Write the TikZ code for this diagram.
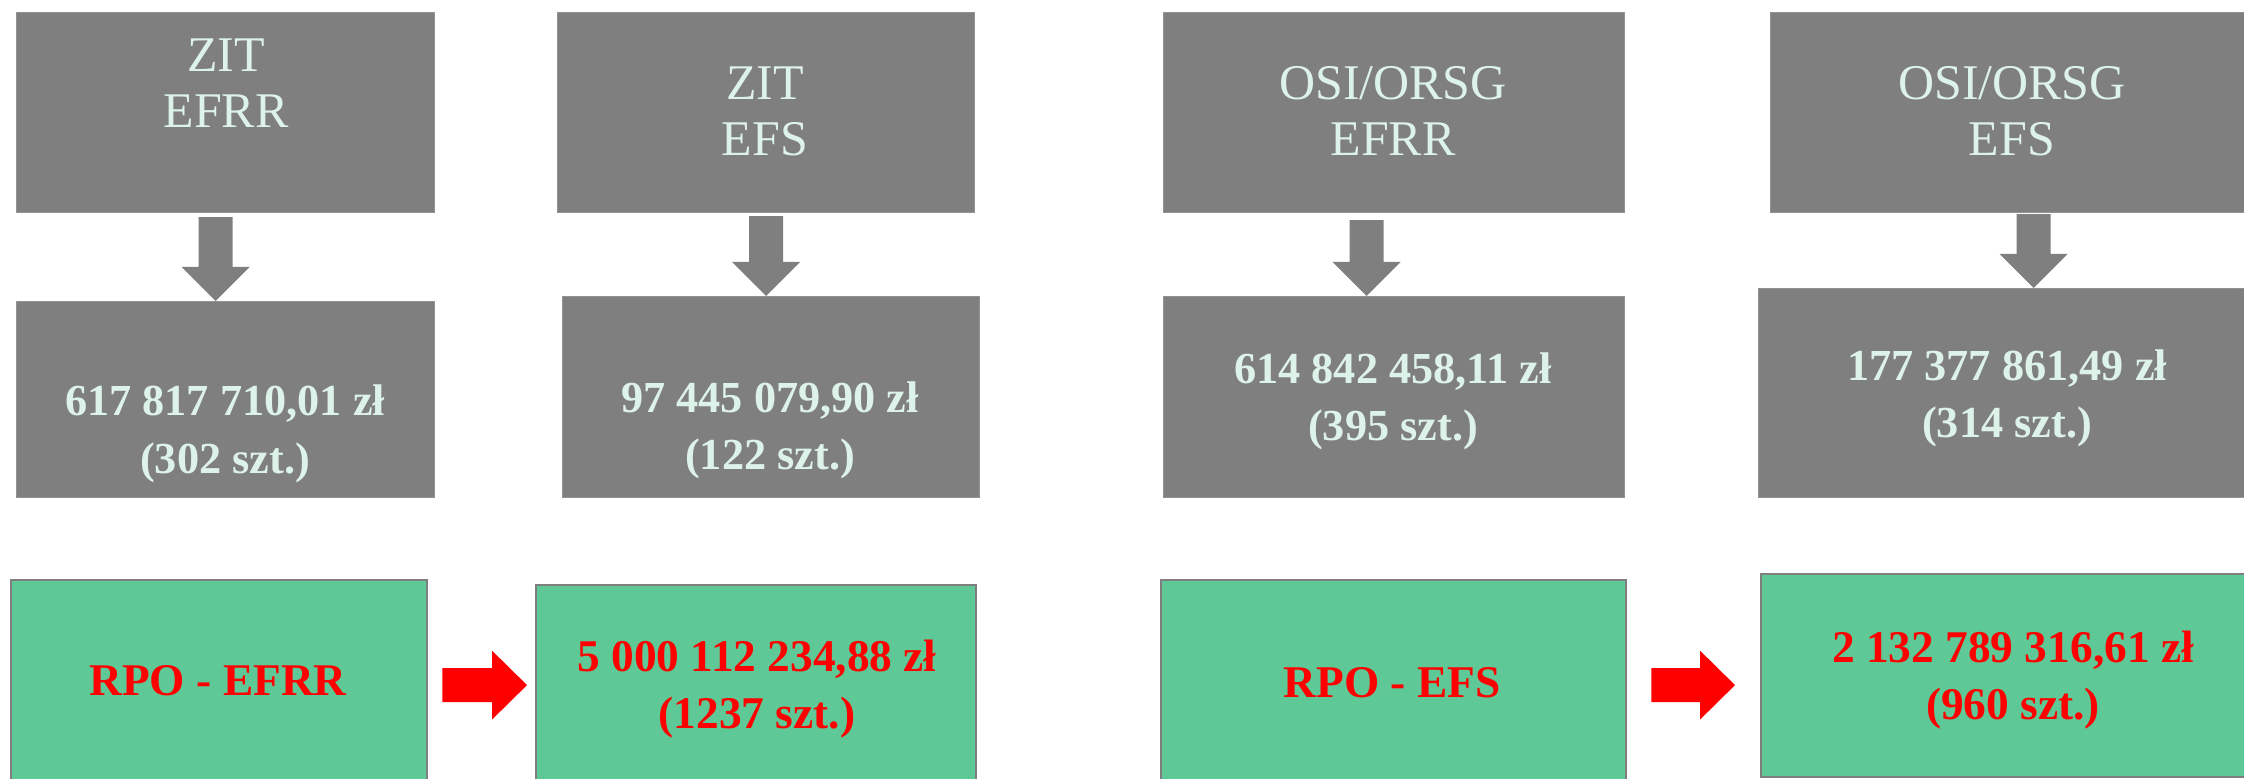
\documentclass[tikz,border=0pt]{standalone}
\usepackage{fontspec}
\setmainfont{Liberation Serif}
\usetikzlibrary{calc}

\definecolor{boxgray}{RGB}{127,127,127}
\definecolor{mint}{RGB}{221,242,232}
\definecolor{rpogreen}{RGB}{94,201,150}

\newcommand{\hdfont}{\fontsize{14.2pt}{16.2pt}\selectfont}
\newcommand{\valfont}{\bfseries\fontsize{12.6pt}{16.4pt}\selectfont}
\newcommand{\rpofont}{\bfseries\fontsize{12.9pt}{16.2pt}\selectfont}

% block arrow down: upper node, lower node, x shift, gap
\newcommand{\grayarrow}[4]{%
  \coordinate (#1-t) at ($(#1.south)+(#3,#4)$);
  \coordinate (#1-p) at (#1-t |- #2.north);
  \fill[boxgray] ($(#1-t)+(-17,0)$) -- ($(#1-t)+(17,0)$) -- ($(#1-p)+(17,-34)$)
    -- ($(#1-p)+(34,-34)$) -- (#1-p) -- ($(#1-p)+(-34,-34)$) -- ($(#1-p)+(-17,-34)$) -- cycle;
}
% block arrow right: left node, right node, gaps
\newcommand{\redarrow}[4]{%
  \coordinate (#1-s) at ($(#1.east)+(#3,-5)$);
  \coordinate (#1-q) at ($(#2.west)+(-#4,0)$);
  \coordinate (#1-p) at (#1-q |- #1-s);
  \fill[red] ($(#1-s)+(0,-17)$) -- ($(#1-p)+(-35,-17)$) -- ($(#1-p)+(-35,-34.5)$) -- (#1-p)
    -- ($(#1-p)+(-35,34.5)$) -- ($(#1-p)+(-35,17)$) -- ($(#1-s)+(0,17)$) -- cycle;
}

\begin{document}
\begin{tikzpicture}[x=0.01cm, y=-0.01cm,
    srcbox/.style={fill=boxgray, draw=boxgray!85!white, line width=0.3pt, inner sep=0pt, anchor=north west},
    rpobox/.style={fill=rpogreen, draw=boxgray, line width=0.6pt, inner sep=0pt, anchor=north west},
    hd/.style={text=mint, font=\hdfont, align=center, anchor=base, inner sep=0pt},
    val/.style={text=mint, font=\valfont, align=center, anchor=base, inner sep=0pt},
    rpo/.style={text=red, font=\rpofont, align=center, anchor=base, inner sep=0pt}]

    \useasboundingbox (0,0) rectangle (2244,779);

    % programmes
    \node[srcbox, minimum width=4.18cm, minimum height=2.00cm] (zitefrr) at (16,12) {};
    \node[srcbox, minimum width=4.17cm, minimum height=2.00cm] (zitefs) at (557,12) {};
    \node[srcbox, minimum width=4.61cm, minimum height=2.00cm] (osiefrr) at (1163,12) {};
    \node[srcbox, minimum width=4.90cm, minimum height=2.00cm] (osiefs) at (1770,12) {};

    % amounts
    \node[srcbox, minimum width=4.18cm, minimum height=1.96cm] (zitefrrval) at (16,301) {};
    \node[srcbox, minimum width=4.17cm, minimum height=2.01cm] (zitefsval) at (562,296) {};
    \node[srcbox, minimum width=4.61cm, minimum height=2.01cm] (osiefrrval) at (1163,296) {};
    \node[srcbox, minimum width=5.02cm, minimum height=2.09cm] (osiefsval) at (1758,288) {};

    % RPO totals
    \node[rpobox, minimum width=4.16cm, minimum height=2.20cm] (rpoefrr) at (10,579) {};
    \node[rpobox, minimum width=4.40cm, minimum height=2.15cm] (rpoefrrval) at (535,584) {};
    \node[rpobox, minimum width=4.65cm, minimum height=2.20cm] (rpoefs) at (1160,579) {};
    \node[rpobox, minimum width=5.06cm, minimum height=2.03cm] (rpoefsval) at (1760,573) {};

    % texts (base = last line)
    \node[hd] (zitefrr-txt) at (226,128) {ZIT\\EFRR};
    \node[hd] (zitefs-txt) at (765,156) {ZIT\\EFS};
    \node[hd] (osiefrr-txt) at (1393,156) {OSI/ORSG\\EFRR};
    \node[hd] (osiefs-txt) at (2012,156) {OSI/ORSG\\EFS};

    \node[val] (zitefrrval-txt) at (225,473) {617 817 710,01 zł\\(302 szt.)};
    \node[val] (zitefsval-txt) at (770,470) {97 445 079,90 zł\\(122 szt.)};
    \node[val] (osiefrrval-txt) at (1393,441) {614 842 458,11 zł\\(395 szt.)};
    \node[val] (osiefsval-txt) at (2007,438) {177 377 861,49 zł\\(314 szt.)};

    \node[rpo] (rpoefrr-txt) at (218,695) {RPO - EFRR};
    \node[rpo] (rpoefrrval-txt) at (757,728) {5 000 112 234,88 zł\\(1237 szt.)};
    \node[rpo] (rpoefs-txt) at (1392,697) {RPO - EFS};
    \node[rpo] (rpoefsval-txt) at (2013,719) {2 132 789 316,61 zł\\(960 szt.)};

    % arrows
    \grayarrow{zitefrr}{zitefrrval}{-10}{4}
    \grayarrow{zitefs}{zitefsval}{0}{3}
    \grayarrow{osiefrr}{osiefrrval}{-27.5}{7}
    \grayarrow{osiefs}{osiefsval}{18}{1}

    \redarrow{rpoefrr}{rpoefrrval}{14}{8}
    \redarrow{rpoefs}{rpoefsval}{24}{25}

\end{tikzpicture}
\end{document}
